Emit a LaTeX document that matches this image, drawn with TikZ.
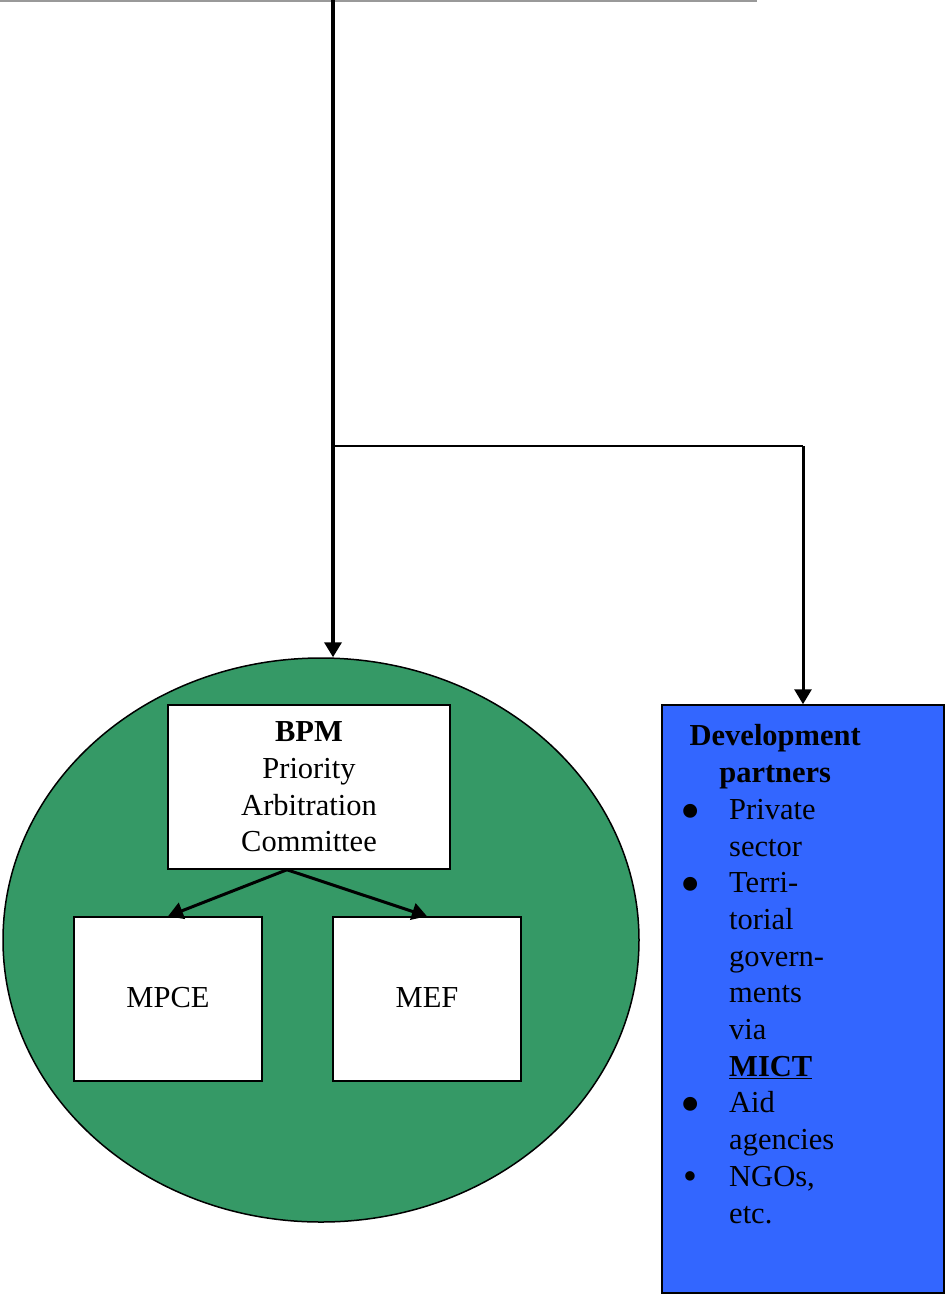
\documentclass[tikz,border=0pt]{standalone}
\usepackage{fontspec}
\setmainfont{Liberation Serif}
\usepackage{array}
\usepackage{tikz}
\usetikzlibrary{positioning, arrows.meta, shapes, calc}
\usepackage{xcolor}
\definecolor{bpmgreen}{RGB}{53,153,102}
\definecolor{devblue}{RGB}{51,102,255}
\newcommand{\bigbul}{\hspace*{-8pt}\raisebox{-0.36em}{\scalebox{1.9}{\textbullet}}}
\tikzset{
  bigfont/.style={font=\fontsize{30.5}{36.7}\selectfont},
  whitebox/.style={draw=black, line width=1.5pt, fill=white, rectangle, inner sep=0pt, bigfont, align=center},
  arr/.style={-{Triangle[length=15pt, width=17pt]}, line width=3.5pt},
}

\begin{document}
\begin{tikzpicture}[x=1pt, y=-1pt]
\useasboundingbox (0,0) rectangle (946,1296);

% top rule and branch points
\coordinate (ruleL) at (0,1);
\coordinate (ruleR) at (757,1);
\coordinate (trunk) at (333,0);
\coordinate (fork) at (333,446);
\draw[gray!80, line width=2pt] (ruleL) -- (ruleR);

% green area
\node[ellipse, draw=black, line width=1.5pt, fill=bpmgreen, minimum width=636pt, minimum height=564pt, inner sep=0pt] (area) at (321,940) {};

% BPM and ministries
\node[whitebox, minimum width=282pt, minimum height=164pt] (bpm) at (309,787) {\textbf{BPM}\\Priority\\Arbitration\\Committee};
\node[whitebox, minimum width=188pt, minimum height=164pt] (mpce) at (168,999) {\raisebox{3pt}{MPCE}};
\node[whitebox, minimum width=188pt, minimum height=164pt] (mef) at (427,999) {\raisebox{3pt}{MEF}};
\coordinate (split) at ($(bpm.south)+(-22,0)$);

% development partners
\node[draw=black, line width=1.5pt, fill=devblue, minimum width=282pt, minimum height=588pt, inner sep=0pt] (dev) at (803,999) {};
\node[anchor=north west, inner sep=0pt, bigfont] (devtext) at (688,720) {%
\renewcommand{\arraystretch}{1.0}%
\begin{tabular}{@{}>{\raggedright}p{41pt}@{}>{\raggedright\arraybackslash}p{133pt}@{}}
\multicolumn{2}{@{}c@{}}{\textbf{Development}}\\
\multicolumn{2}{@{}c@{}}{\textbf{partners}}\\
\bigbul & Private\\
 & sector\\
\bigbul & Terri-\\
 & torial\\
 & govern-\\
 & ments\\
 & via\\
 & \underline{\textbf{MICT}}\\
\bigbul & Aid\\
 & agencies\\
\hspace*{-5pt}\raisebox{-0.1em}{\scalebox{1.3}{\textbullet}} & NGOs,\\
 & etc.
\end{tabular}};

% connectors
\draw[arr] (trunk) -- (trunk |- area.north);
\draw[line width=2pt] (fork) -- (fork -| dev.north);
\draw[arr, line width=3pt] (fork -| dev.north) -- (dev.north);
\draw[arr, line width=3pt] (split) -- (mpce.north);
\draw[arr, line width=3pt] (split) -- (mef.north);
\end{tikzpicture}
\end{document}
